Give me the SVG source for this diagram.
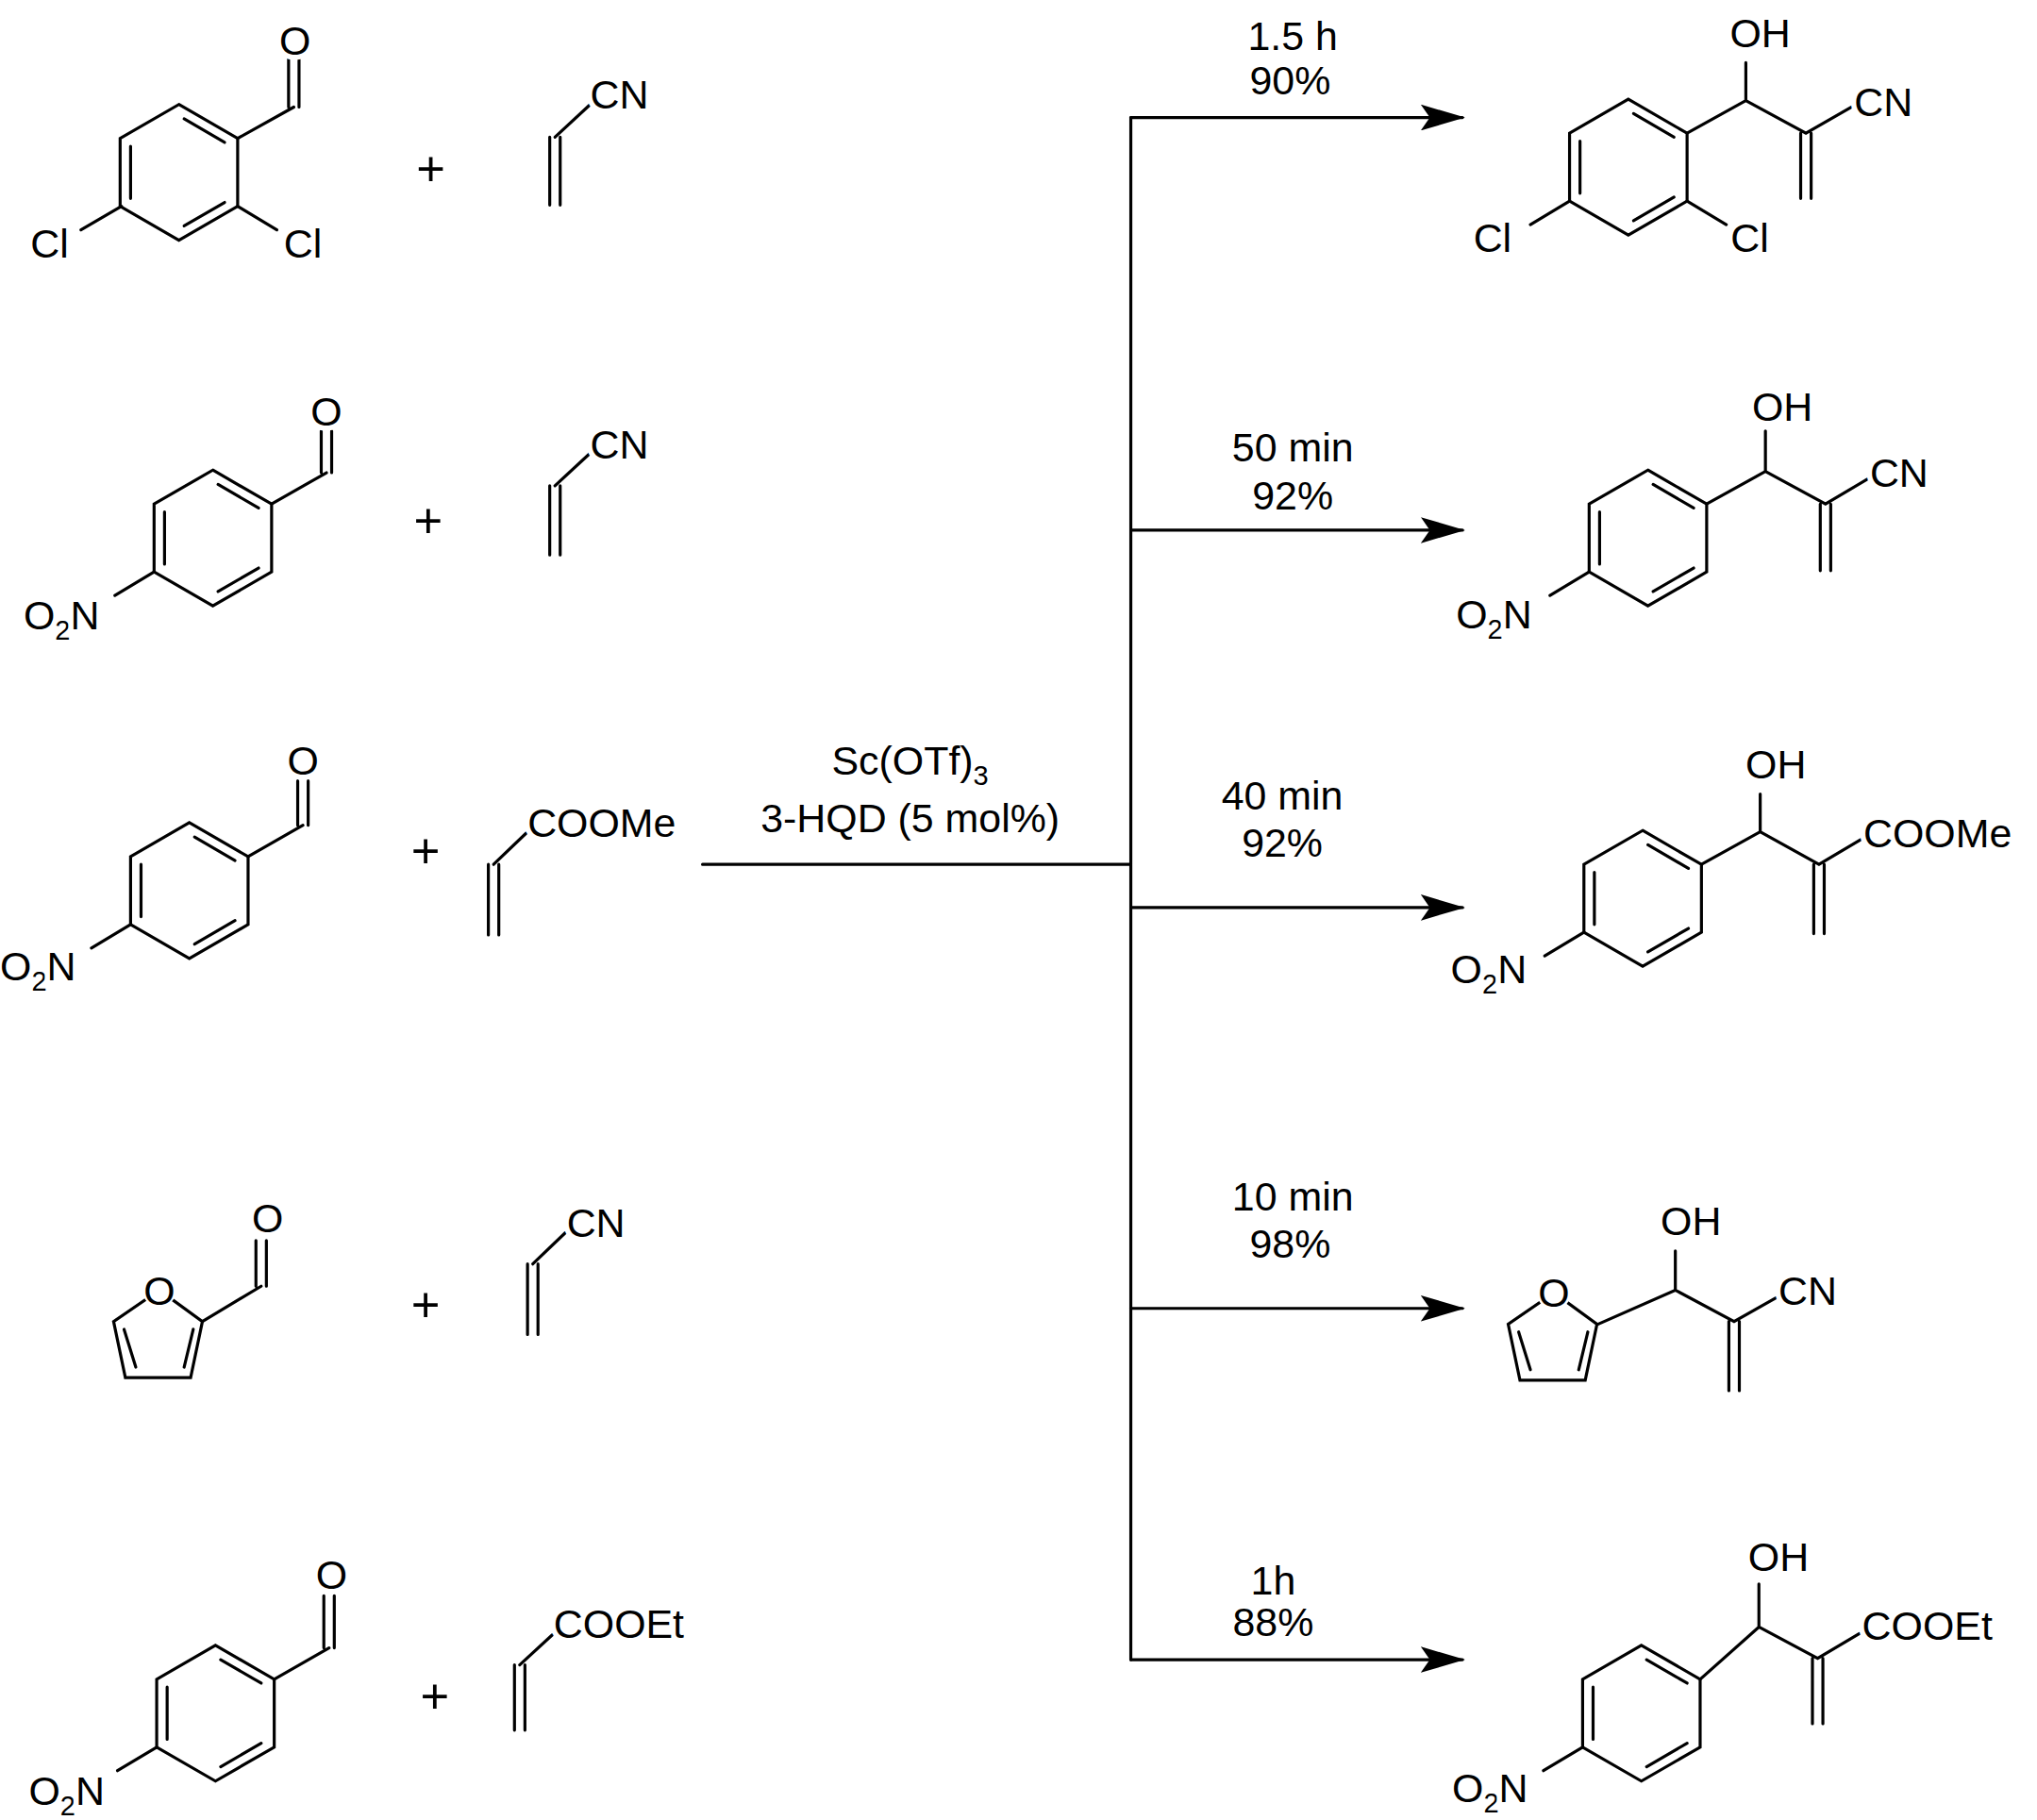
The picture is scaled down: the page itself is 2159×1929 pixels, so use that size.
<svg xmlns="http://www.w3.org/2000/svg" xmlns:xlink="http://www.w3.org/1999/xlink" width="2159" height="1929" viewBox="0 0 2159 1929">
<style>
.b{stroke:#000;stroke-width:2.3;fill:none;stroke-linecap:round}
text{font-family:"Liberation Sans",Arial,sans-serif;font-size:31px;fill:#000}
.a{stroke:#fff;stroke-width:8px;paint-order:stroke;stroke-linejoin:round}
.p{font-size:38px;font-weight:300}
.m{text-anchor:middle}
.w{fill:#fff}
</style>
<defs>
<marker id="ah" markerUnits="userSpaceOnUse" markerWidth="34" markerHeight="20" refX="32" refY="10" orient="auto"><path d="M0,0 L34,10 L0,20 L7,10 Z" fill="#000"/></marker>
<g id="benz" class="b"><path d="M0,-52 L45,-26 L45,26 L0,52 L-45,26 L-45,-26 Z"/><path d="M4,-41 L35,-23 M35,23 L4,41 M-37,-20 L-37,20"/></g>
<g id="fur" class="b"><path d="M0,-32 L33,-8 L24,35 L-26,35 L-35,-8 Z"/><path d="M26,-2 L19,27 M-18,27 L-27,-2"/></g>
</defs>
<rect width="2159" height="1929" fill="#fff"/>
<g transform="scale(1.384)">
<g id="connectors" class="b">
<path d="M538,662 H866 M866,90 V1271"/>
<path d="M866,90 H1120" marker-end="url(#ah)"/>
<path d="M866,406 H1120" marker-end="url(#ah)"/>
<path d="M866,695 H1120" marker-end="url(#ah)"/>
<path d="M866,1002 H1120" marker-end="url(#ah)"/>
<path d="M866,1271 H1120" marker-end="url(#ah)"/>
</g>
<g id="labels">
<text class="m" x="697" y="593">Sc(OTf)<tspan font-size="21" dy="8">3</tspan></text>
<text class="m" x="697" y="637">3-HQD (5 mol%)</text>
<text class="m" x="990" y="38">1.5 h</text><text class="m" x="988" y="72">90%</text>
<text class="m" x="990" y="353">50 min</text><text class="m" x="990" y="390">92%</text>
<text class="m" x="982" y="620">40 min</text><text class="m" x="982" y="656">92%</text>
<text class="m" x="990" y="927">10 min</text><text class="m" x="988" y="963">98%</text>
<text class="m" x="975" y="1221">1h</text><text class="m" x="975" y="1253">88%</text>
</g>
<g id="r1">
<use href="#benz" x="137" y="132"/>
<path class="b" d="M182,106 L225,82 M221,82 L221,45 M229,82 L229,45 M93,158 L62,176 M182,158 L212,176"/>
<text class="m a" x="226" y="42">O</text><text class="m a" x="38" y="197">Cl</text><text class="m a" x="232" y="197">Cl</text>
</g>
<g id="r2">
<use href="#benz" x="163" y="412"/>
<path class="b" d="M208,386 L250,362 M246,362 L246,330 M254,362 L254,330 M118,438 L88,456"/>
<text class="m a" x="250" y="326">O</text><text class="a" x="18" y="482">O<tspan font-size="21" dy="8">2</tspan><tspan dy="-8">N</tspan></text>
</g>
<g id="r3">
<use href="#benz" x="145" y="682"/>
<path class="b" d="M190,656 L232,632 M228,632 L228,598 M236,632 L236,598 M100,708 L70,726"/>
<text class="m a" x="232" y="593">O</text><text class="a" x="0" y="751">O<tspan font-size="21" dy="8">2</tspan><tspan dy="-8">N</tspan></text>
</g>
<g id="r4">
<use href="#fur" x="122" y="1020"/>
<circle class="w" cx="122" cy="988" r="13"/>
<text class="m" x="122" y="999">O</text>
<path class="b" d="M155,1012 L200,985 M196,985 L196,950 M204,985 L204,950"/>
<text class="m a" x="205" y="944">O</text>
</g>
<g id="r5">
<use href="#benz" x="165" y="1312"/>
<path class="b" d="M210,1286 L252,1262 M248,1262 L248,1222 M256,1262 L256,1222 M120,1338 L90,1356"/>
<text class="m a" x="254" y="1217">O</text><text class="a" x="22" y="1382">O<tspan font-size="21" dy="8">2</tspan><tspan dy="-8">N</tspan></text>
</g>
<g id="a1"><text class="m p" x="330" y="142">+</text><path class="b" d="M421,157 V105 M429,157 V105 M425,105 L452,80"/><text class="a" x="452" y="83">CN</text></g>
<g id="a2"><text class="m p" x="328" y="412">+</text><path class="b" d="M421,425 V372 M429,425 V372 M425,372 L452,347"/><text class="a" x="452" y="351">CN</text></g>
<g id="a3"><text class="m p" x="326" y="665">+</text><path class="b" d="M374,716 V662 M382,716 V662 M378,662 L403,638"/><text class="a" x="404" y="641">COOMe</text></g>
<g id="a4"><text class="m p" x="326" y="1012">+</text><path class="b" d="M404,1022 V968 M412,1022 V968 M408,968 L433,944"/><text class="a" x="434" y="947">CN</text></g>
<g id="a5"><text class="m p" x="333" y="1312">+</text><path class="b" d="M394,1325 V1275 M402,1325 V1275 M398,1275 L423,1252"/><text class="a" x="424" y="1254">COOEt</text></g>
<g id="p1">
<use href="#benz" x="1247" y="128"/>
<path class="b" d="M1292,102 L1337,77 L1337,48 M1337,77 L1383,102 L1418,82 M1379,102 V152 M1387,102 V152 M1202,154 L1172,172 M1292,154 L1322,172"/>
<text class="m a" x="1348" y="36">OH</text><text class="a" x="1420" y="89">CN</text>
<text class="m a" x="1143" y="193">Cl</text><text class="m a" x="1340" y="193">Cl</text>
</g>
<g id="p2">
<use href="#benz" x="1262" y="412"/>
<path class="b" d="M1307,386 L1352,361 L1352,330 M1352,361 L1398,386 L1430,367 M1394,386 V437 M1402,386 V437 M1217,438 L1187,456"/>
<text class="m a" x="1365" y="322">OH</text><text class="a" x="1432" y="373">CN</text>
<text class="a" x="1115" y="481">O<tspan font-size="21" dy="8">2</tspan><tspan dy="-8">N</tspan></text>
</g>
<g id="p3">
<use href="#benz" x="1258" y="688"/>
<path class="b" d="M1303,662 L1348,637 L1348,608 M1348,637 L1393,662 L1425,643 M1389,662 V715 M1397,662 V715 M1213,714 L1183,732"/>
<text class="m a" x="1360" y="596">OH</text><text class="a" x="1427" y="649">COOMe</text>
<text class="a" x="1111" y="753">O<tspan font-size="21" dy="8">2</tspan><tspan dy="-8">N</tspan></text>
</g>
<g id="p4">
<use href="#fur" x="1190" y="1022"/>
<circle class="w" cx="1190" cy="990" r="13"/>
<text class="m" x="1190" y="1001">O</text>
<path class="b" d="M1224,1014 L1283,988 L1283,958 M1283,988 L1328,1012 L1360,994 M1324,1012 V1065 M1332,1012 V1065"/>
<text class="m a" x="1295" y="946">OH</text><text class="a" x="1362" y="999">CN</text>
</g>
<g id="p5">
<use href="#benz" x="1257" y="1312"/>
<path class="b" d="M1302,1286 L1347,1246 L1347,1213 M1347,1246 L1392,1270 L1424,1251 M1388,1270 V1320 M1396,1270 V1320 M1212,1338 L1182,1356"/>
<text class="m a" x="1362" y="1203">OH</text><text class="a" x="1426" y="1256">COOEt</text>
<text class="a" x="1112" y="1380">O<tspan font-size="21" dy="8">2</tspan><tspan dy="-8">N</tspan></text>
</g>
</g>
</svg>
